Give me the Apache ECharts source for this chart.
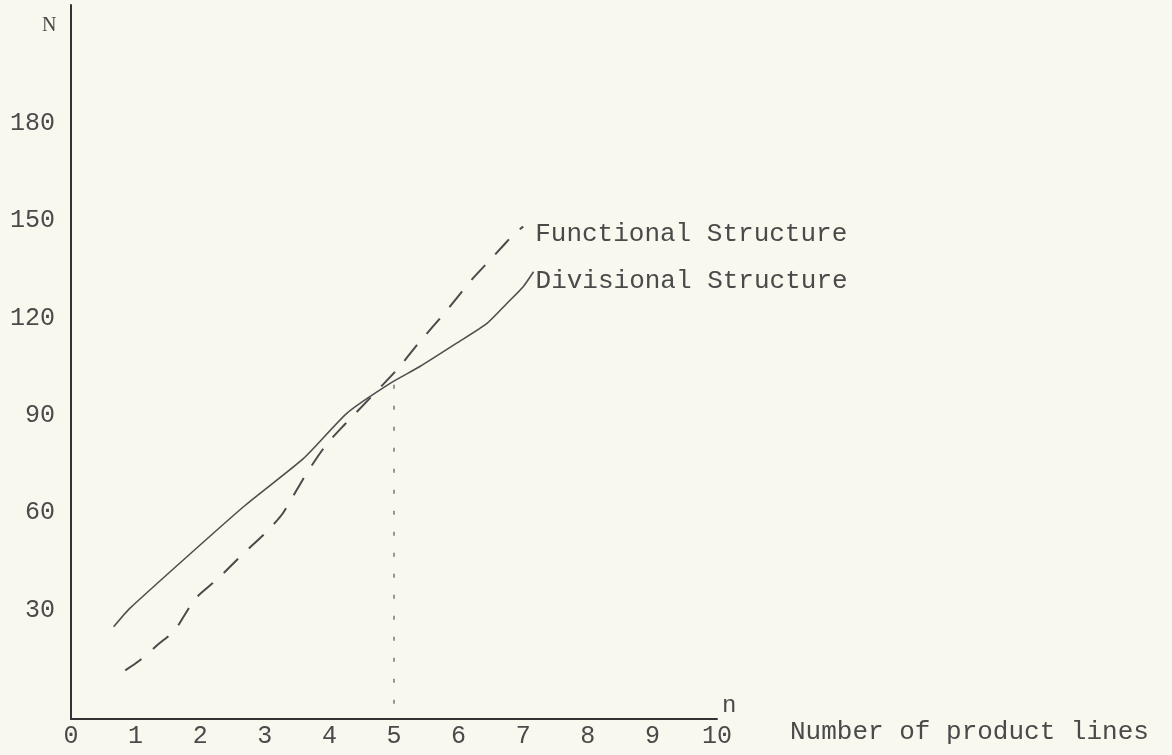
<!DOCTYPE html>
<html>
<head>
<meta charset="utf-8">
<script src="https://cdn.jsdelivr.net/npm/echarts@6/dist/echarts.min.js"></script>
<style>
html,body{margin:0;padding:0;background:#f8f8ee;}
#chart{width:1172px;height:755px;}
</style>
</head>
<body>
<div id="chart"></div>
<script>
// Tick labels
var xTicks = [0, 1, 2, 3, 4, 5, 6, 7, 8, 9, 10];
var yTicks = [30, 60, 90, 120, 150, 180];

// Functional Structure (dashed): [n, N]
var functionalData = [
  [0.84, 15], [1.04, 17.7], [1.35, 23], [1.61, 27.4], [1.92, 37], [2.26, 43], [2.67, 51],
  [3.03, 57.7], [3.28, 63.4], [3.64, 75.5], [3.95, 84.5], [4.23, 90.6], [5.04, 107.5],
  [5.38, 115.8], [5.8, 125.5], [6.2, 135.3], [6.56, 143], [6.87, 149.7], [7.0, 151.7]
];

// Divisional Structure (solid): [n, N]
var divisionalData = [
  [0.66, 28.4], [0.91, 34.1], [2.67, 65.4], [3.6, 80.3], [4.27, 94.2], [4.94, 103.4],
  [5.4, 108.6], [5.97, 115.8], [6.44, 121.9], [6.75, 128.1], [7.0, 133.2], [7.16, 137.8]
];

// Vertical dotted guide at n = 5
var guideData = [[5, 103], [5, 4]];

var textColor = '#4a4a4a';
var mono = '"Liberation Mono", "DejaVu Sans Mono", monospace';

var chart = echarts.init(document.getElementById('chart'));
chart.setOption({
  backgroundColor: '#f8f8ee',
  animation: false,
  grid: { left: 71, right: 455, top: 5, bottom: 36, containLabel: false },
  xAxis: {
    type: 'value', min: 0, max: 10,
    axisLine: { show: true, lineStyle: { color: '#333', width: 2 } },
    axisTick: { show: false },
    splitLine: { show: false },
    axisLabel: {
      customValues: xTicks,
      color: textColor, fontFamily: mono, fontSize: 25, margin: 5
    }
  },
  yAxis: {
    type: 'value', min: 0, max: 220,
    axisLine: { show: true, lineStyle: { color: '#333', width: 2 } },
    axisTick: { show: false },
    splitLine: { show: false },
    axisLabel: {
      customValues: yTicks,
      color: textColor, fontFamily: mono, fontSize: 25, margin: 16,
      verticalAlign: 'bottom', lineHeight: 23
    }
  },
  series: [
    {
      name: 'Functional Structure', type: 'line', data: functionalData,
      showSymbol: false, smooth: 0.2,
      lineStyle: { color: '#4a4a4a', width: 2, type: [20, 15] },
      endLabel: { show: true, formatter: '{a}', color: textColor, fontFamily: mono, fontSize: 26, distance: 12, offset: [0, 7] }
    },
    {
      name: 'Divisional Structure', type: 'line', data: divisionalData,
      showSymbol: false, smooth: 0.2,
      lineStyle: { color: '#4f4f4f', width: 1.6 },
      endLabel: { show: true, formatter: '{a}', color: textColor, fontFamily: mono, fontSize: 26, distance: 2, offset: [0, 9] }
    },
    {
      name: 'guide', type: 'line', data: guideData,
      showSymbol: false,
      lineStyle: { color: '#777', width: 1.5, type: [4, 17] }
    }
  ],
  graphic: [
    { type: 'text', left: 42, top: 16, style: { text: 'N', fill: textColor, font: '20px "Liberation Serif", serif' } },
    { type: 'text', left: 722, top: 694, style: { text: 'n', fill: textColor, font: '24px ' + mono } },
    { type: 'text', left: 790, top: 719, style: { text: 'Number of product lines', fill: textColor, font: '26px ' + mono } }
  ]
});
</script>
</body>
</html>
